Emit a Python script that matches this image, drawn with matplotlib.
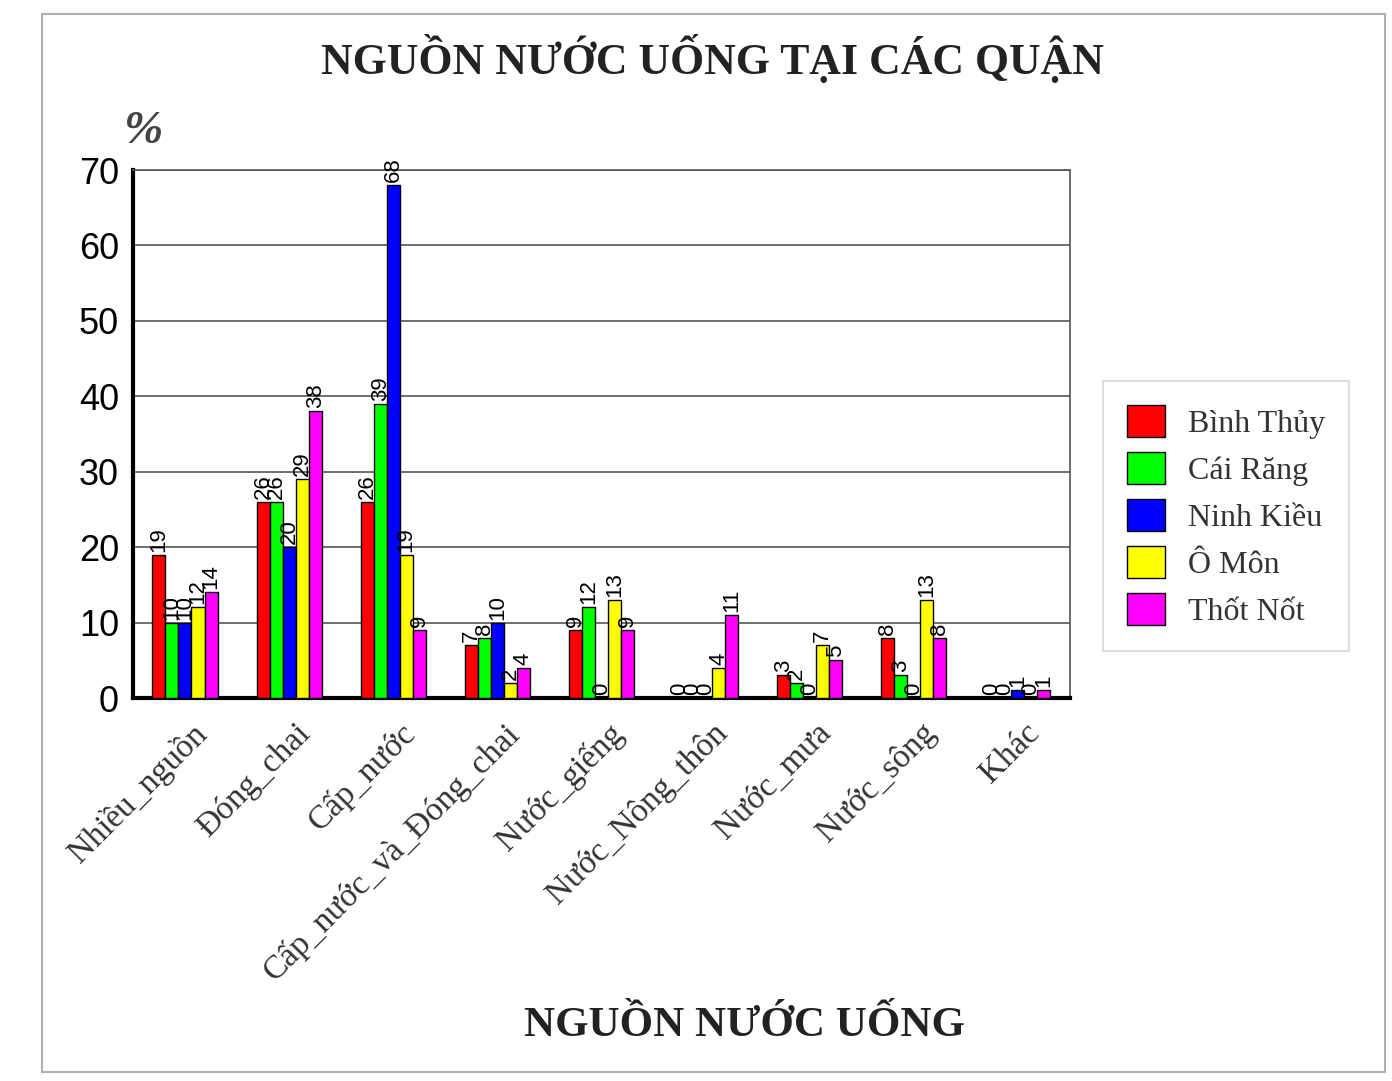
import numpy as np
import matplotlib
matplotlib.use("Agg")
import matplotlib.pyplot as plt
from matplotlib.patches import Rectangle
from matplotlib.transforms import ScaledTranslation

categories = ["Nhiều_nguồn", "Đóng_chai", "Cấp_nước", "Cấp_nước_và_Đóng_chai",
              "Nước_giếng", "Nước_Nông_thôn", "Nước_mưa", "Nước_sông", "Khác"]
districts = ["Bình Thủy", "Cái Răng", "Ninh Kiều", "Ô Môn", "Thốt Nốt"]
binh_thuy = [19, 26, 26, 7, 9, 0, 3, 8, 0]
cai_rang = [10, 26, 39, 8, 12, 0, 2, 3, 0]
ninh_kieu = [10, 20, 68, 10, 0, 0, 0, 0, 1]
o_mon = [12, 29, 19, 2, 13, 4, 7, 13, 0]
thot_not = [14, 38, 9, 4, 9, 11, 5, 8, 1]
colors = ["#ff0000", "#00ff00", "#0000ff", "#ffff00", "#ff00ff"]

series = [binh_thuy, cai_rang, ninh_kieu, o_mon, thot_not]

serif = "Liberation Serif"
sans = "Liberation Sans"

fig = plt.figure(figsize=(13.92, 10.81), dpi=100)
ax = fig.add_axes([0.0955, 0.3543, 0.6731, 0.4884])

# outer frame
fig.patches.append(Rectangle((42 / 1392, 1 - 1072 / 1081), (1385 - 42) / 1392, (1072 - 14) / 1081,
                             transform=fig.transFigure, fill=False, edgecolor="#b0b0b0", lw=1.5))

x = np.arange(len(categories))
w = 0.125
for i, (vals, c, name) in enumerate(zip(series, colors, districts)):
    pos = x + (i - 2) * w
    ax.bar(pos, vals, w, color=c, edgecolor="black", linewidth=1, label=name, zorder=3)
    for p, v in zip(pos, vals):
        ax.text(p, v + 0.4, str(v), rotation=90, ha="center", va="bottom",
                fontsize=16, family=sans, zorder=4)

ax.set_xlim(-0.5, 8.5)
ax.set_ylim(0, 70)
ax.set_yticks(range(0, 71, 10))
ax.yaxis.grid(True, color="#555555", lw=1.2, zorder=0)
ax.tick_params(axis="y", labelsize=26, length=0, pad=10)
for lab in ax.get_yticklabels():
    lab.set_family(sans)
ax.set_xticks(x)
ax.set_xticklabels(categories, rotation=45, ha="right", rotation_mode="anchor",
                   fontsize=24, family=serif, color="#333333")
ax.tick_params(axis="x", length=0, pad=14)
shift = ScaledTranslation(0.06, 0, fig.dpi_scale_trans)
for lab in ax.get_xticklabels():
    lab.set_transform(lab.get_transform() + shift)

ax.spines["left"].set_linewidth(3)
ax.spines["bottom"].set_linewidth(3)
ax.spines["top"].set_color("#555555")
ax.spines["right"].set_color("#555555")
ax.spines["top"].set_linewidth(1.2)
ax.spines["right"].set_linewidth(1.2)

fig.text(0.512, 0.946, "NGUỒN NƯỚC UỐNG TẠI CÁC QUẬN", ha="center", va="center",
         fontsize=31.5, fontweight="bold", family=serif, color="#222222")
fig.text(0.535, 0.051, "NGUỒN NƯỚC UỐNG", ha="center", va="center",
         fontsize=31, fontweight="bold", family=serif, color="#222222")
fig.text(0.103, 0.878, "%", ha="center", va="center", fontsize=34,
         style="italic", fontweight="bold", family=serif, color="#444444")

leg = ax.legend(loc="center left", bbox_to_anchor=(1.025, 0.345), prop={"family": serif, "size": 23},
                frameon=True, fancybox=False, edgecolor="#cccccc", handlelength=1.2,
                handleheight=1.15, labelspacing=0.42, borderpad=0.75, handletextpad=0.7,
                borderaxespad=0.3)
leg.get_frame().set_linewidth(1.2)
for t in leg.get_texts():
    t.set_color("#333333")

fig.savefig("out.png", dpi=100)
